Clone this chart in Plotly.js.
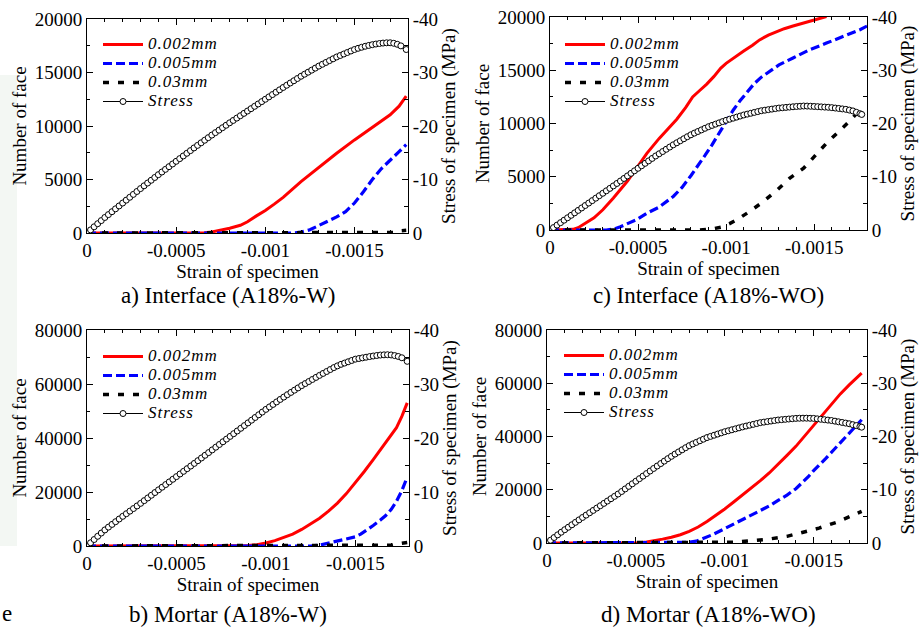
<!DOCTYPE html>
<html><head><meta charset="utf-8">
<script src="https://cdn.plot.ly/plotly-3.0.1.min.js"></script>
<style>html,body{margin:0;padding:0;background:#fff}#chart{width:921px;height:628px}</style>
</head><body><div id="chart"></div>
<script>
// ---------- labels ----------
const seriesNames = ['0.002mm', '0.005mm', '0.03mm', 'Stress'];
const panelCaptions = ['a) Interface (A18%-W)', 'c) Interface (A18%-WO)', 'b) Mortar (A18%-W)', 'd) Mortar (A18%-WO)'];
const xTitle = 'Strain of specimen';
const yTitle = 'Number of face';
const y2Title = 'Stress of specimen (MPa)';
const xTickVals = [0, -0.0005, -0.001, -0.0015];
const xTickText = ['0', '-0.0005', '-0.001', '-0.0015'];
const countTickValsTop = [0, 5000, 10000, 15000, 20000];
const countTickTextTop = ['0', '5000', '10000', '15000', '20000'];
const countTickValsBottom = [0, 20000, 40000, 60000, 80000];
const countTickTextBottom = ['0', '20000', '40000', '60000', '80000'];
const stressTickVals = [0, -10, -20, -30, -40];
const stressTickText = ['0', '-10', '-20', '-30', '-40'];

// ---------- strain positions of the stress readings ----------
const stressStrainAB = [0, -0.00002, -0.00004, -0.00006, -0.00008, -0.0001, -0.00012, -0.00014, -0.00016, -0.00018,
  -0.0002, -0.00022, -0.00024, -0.00026, -0.00028, -0.0003, -0.00032, -0.00034, -0.00036, -0.00038,
  -0.0004, -0.00042, -0.00044, -0.00046, -0.00048, -0.0005, -0.00052, -0.00054, -0.00056, -0.00058,
  -0.0006, -0.00062, -0.00064, -0.00066, -0.00068, -0.0007, -0.00072, -0.00074, -0.00076, -0.00078,
  -0.0008, -0.00082, -0.00084, -0.00086, -0.00088, -0.0009, -0.00092, -0.00094, -0.00096, -0.00098,
  -0.001, -0.00102, -0.00104, -0.00106, -0.00108, -0.0011, -0.00112, -0.00114, -0.00116, -0.00118,
  -0.0012, -0.00122, -0.00124, -0.00126, -0.00128, -0.0013, -0.00132, -0.00134, -0.00136, -0.00138,
  -0.0014, -0.00142, -0.00144, -0.00146, -0.00148, -0.0015, -0.00152, -0.00154, -0.00156, -0.00158,
  -0.0016, -0.00162, -0.00164, -0.00166, -0.00168, -0.0017, -0.00172, -0.00174, -0.00176, -0.00179];
const stressStrainCD = [0, -0.00002, -0.00004, -0.00006, -0.00008, -0.0001, -0.00012, -0.00014, -0.00016, -0.00018,
  -0.0002, -0.00022, -0.00024, -0.00026, -0.00028, -0.0003, -0.00032, -0.00034, -0.00036, -0.00038,
  -0.0004, -0.00042, -0.00044, -0.00046, -0.00048, -0.0005, -0.00052, -0.00054, -0.00056, -0.00058,
  -0.0006, -0.00062, -0.00064, -0.00066, -0.00068, -0.0007, -0.00072, -0.00074, -0.00076, -0.00078,
  -0.0008, -0.00082, -0.00084, -0.00086, -0.00088, -0.0009, -0.00092, -0.00094, -0.00096, -0.00098,
  -0.001, -0.00102, -0.00104, -0.00106, -0.00108, -0.0011, -0.00112, -0.00114, -0.00116, -0.00118,
  -0.0012, -0.00122, -0.00124, -0.00126, -0.00128, -0.0013, -0.00132, -0.00134, -0.00136, -0.00138,
  -0.0014, -0.00142, -0.00144, -0.00146, -0.00148, -0.0015, -0.00152, -0.00154, -0.00156, -0.00158,
  -0.0016, -0.00162, -0.00164, -0.00166, -0.00168, -0.0017, -0.00172, -0.00174, -0.00176, -0.00177];

// ---------- panel a) Interface (A18%-W) ----------
const aStress = [0, -0.58, -1.16, -1.74, -2.32, -2.90, -3.44, -3.98, -4.52, -5.06,
  -5.60, -6.14, -6.68, -7.22, -7.76, -8.30, -8.82, -9.34, -9.86, -10.38,
  -10.90, -11.40, -11.90, -12.40, -12.90, -13.40, -13.90, -14.40, -14.90, -15.40,
  -15.90, -16.38, -16.86, -17.34, -17.82, -18.30, -18.76, -19.22, -19.68, -20.14,
  -20.60, -21.04, -21.48, -21.92, -22.36, -22.80, -23.24, -23.68, -24.12, -24.56,
  -25.00, -25.44, -25.88, -26.32, -26.76, -27.20, -27.62, -28.04, -28.46, -28.88,
  -29.30, -29.68, -30.06, -30.44, -30.82, -31.20, -31.54, -31.88, -32.22, -32.56,
  -32.90, -33.18, -33.46, -33.74, -34.02, -34.30, -34.52, -34.72, -34.90, -35.06,
  -35.20, -35.32, -35.42, -35.50, -35.55, -35.56, -35.46, -35.27, -34.98, -34.30];
const aRedX = [0, -0.0006, -0.00066, -0.0007, -0.00075, -0.0008, -0.00086, -0.0009, -0.00095, -0.001, -0.00105, -0.0011, -0.0012, -0.0013, -0.0014, -0.0015, -0.0016, -0.0017, -0.00175, -0.00179];
const aRedY = [0, 0, 30, 100, 250, 450, 720, 1050, 1600, 2100, 2700, 3330, 4800, 6150, 7450, 8700, 9900, 11050, 11850, 12800];
const aBlueX = [0, -0.00115, -0.0012, -0.00125, -0.0013, -0.00135, -0.0014, -0.00145, -0.0015, -0.00155, -0.0016, -0.00165, -0.0017, -0.00175, -0.00179];
const aBlueY = [0, 0, 80, 300, 700, 1100, 1500, 2000, 2800, 3850, 5000, 6000, 6850, 7600, 8250];
const aBlackX = [0, -0.00165, -0.00172, -0.00175, -0.00179];
const aBlackY = [0, 0, 50, 200, 250];

// ---------- panel c) Interface (A18%-WO) ----------
const cStress = [0, -0.46, -0.92, -1.38, -1.84, -2.30, -2.76, -3.22, -3.68, -4.14,
  -4.60, -5.06, -5.52, -5.98, -6.44, -6.90, -7.36, -7.82, -8.28, -8.74,
  -9.20, -9.68, -10.16, -10.64, -11.12, -11.59, -12.06, -12.52, -12.98, -13.44,
  -13.90, -14.32, -14.74, -15.16, -15.58, -16.00, -16.38, -16.76, -17.14, -17.52,
  -17.88, -18.20, -18.50, -18.80, -19.10, -19.40, -19.64, -19.88, -20.12, -20.36,
  -20.60, -20.80, -21.00, -21.20, -21.40, -21.60, -21.76, -21.92, -22.08, -22.24,
  -22.40, -22.50, -22.60, -22.70, -22.80, -22.90, -22.96, -23.02, -23.08, -23.14,
  -23.20, -23.24, -23.28, -23.27, -23.24, -23.20, -23.16, -23.12, -23.08, -23.04,
  -22.98, -22.90, -22.82, -22.74, -22.66, -22.52, -22.36, -22.10, -21.84, -21.70];
const cRedX = [0, -0.0001, -0.00013, -0.00016, -0.0002, -0.00025, -0.0003, -0.00036, -0.00044, -0.00049, -0.00055, -0.00062, -0.00068, -0.00072, -0.00077, -0.00081, -0.00085, -0.00089, -0.00093, -0.00097, -0.001, -0.00105, -0.0011, -0.00115, -0.00119, -0.00124, -0.00129, -0.00133, -0.00138, -0.00143, -0.00147, -0.00152, -0.00157];
const cRedY = [0, 0, 60, 220, 620, 1150, 1900, 3000, 4600, 5800, 7200, 8600, 9650, 10400, 11500, 12500, 13100, 13700, 14400, 15200, 15650, 16250, 16800, 17350, 17850, 18300, 18650, 18900, 19150, 19400, 19600, 19850, 20050];
const cBlueX = [0, -0.00032, -0.00036, -0.0004, -0.00044, -0.00049, -0.00055, -0.00062, -0.0007, -0.00075, -0.0008, -0.00084, -0.00088, -0.00092, -0.00096, -0.001, -0.00104, -0.00108, -0.00112, -0.00116, -0.0012, -0.00125, -0.0013, -0.00138, -0.00147, -0.00157, -0.00166, -0.00176, -0.0018];
const cBlueY = [0, 0, 80, 300, 600, 950, 1580, 2150, 3150, 4000, 5100, 6000, 7000, 8000, 9100, 10200, 11250, 12150, 13000, 13750, 14350, 14950, 15500, 16150, 16900, 17550, 18150, 18800, 19150];
const cBlackX = [0, -0.00085, -0.00092, -0.00098, -0.00102, -0.00106, -0.00113, -0.00121, -0.00129, -0.00136, -0.00144, -0.0015, -0.00157, -0.00164, -0.0017, -0.00177];
const cBlackY = [0, 0, 100, 300, 600, 950, 1700, 2650, 3750, 4850, 5800, 6900, 8150, 9250, 10200, 11450];

// ---------- panel b) Mortar (A18%-W) ----------
const bStress = [0, -0.60, -1.20, -1.80, -2.40, -2.98, -3.50, -4.00, -4.50, -5.00,
  -5.50, -5.98, -6.46, -6.94, -7.42, -7.90, -8.40, -8.90, -9.40, -9.90,
  -10.40, -10.89, -11.38, -11.87, -12.36, -12.85, -13.34, -13.83, -14.32, -14.81,
  -15.30, -15.80, -16.30, -16.80, -17.30, -17.80, -18.30, -18.80, -19.30, -19.80,
  -20.30, -20.80, -21.30, -21.80, -22.30, -22.80, -23.30, -23.80, -24.30, -24.80,
  -25.30, -25.76, -26.22, -26.68, -27.14, -27.58, -28.02, -28.44, -28.86, -29.28,
  -29.70, -30.08, -30.46, -30.84, -31.22, -31.60, -31.96, -32.32, -32.68, -33.04,
  -33.36, -33.64, -33.88, -34.12, -34.36, -34.60, -34.72, -34.84, -34.96, -35.08,
  -35.18, -35.28, -35.36, -35.40, -35.42, -35.38, -35.26, -35.10, -34.86, -34.20];
const bRedX = [0, -0.00086, -0.0009, -0.00095, -0.001, -0.00105, -0.0011, -0.00115, -0.0012, -0.00125, -0.0013, -0.00135, -0.0014, -0.00145, -0.0015, -0.00155, -0.0016, -0.00165, -0.0017, -0.00173, -0.00176, -0.00179];
const bRedY = [0, 0, 150, 500, 1100, 2000, 3100, 4400, 6150, 8100, 10300, 12900, 15900, 19400, 23300, 27600, 32000, 36500, 40800, 43800, 48000, 53000];
const bBlueX = [0, -0.00125, -0.0013, -0.00134, -0.00138, -0.00143, -0.00147, -0.0015, -0.00153, -0.00156, -0.0016, -0.00164, -0.00167, -0.0017, -0.00173, -0.00176, -0.00179];
const bBlueY = [0, 0, 300, 900, 1400, 2100, 2800, 3400, 4400, 5700, 7600, 9600, 11300, 13500, 16500, 20500, 25500];
const bBlackX = [0, -0.0016, -0.0017, -0.00175, -0.00179];
const bBlackY = [0, 0, 300, 900, 1300];

// ---------- panel d) Mortar (A18%-WO) ----------
const dStress = [0, -0.52, -1.03, -1.53, -2.03, -2.50, -2.96, -3.42, -3.88, -4.34,
  -4.80, -5.24, -5.68, -6.12, -6.56, -7.00, -7.44, -7.88, -8.32, -8.76,
  -9.20, -9.67, -10.16, -10.64, -11.12, -11.60, -12.08, -12.56, -13.04, -13.52,
  -14.00, -14.46, -14.92, -15.38, -15.84, -16.28, -16.70, -17.10, -17.50, -17.90,
  -18.28, -18.60, -18.90, -19.20, -19.50, -19.80, -20.02, -20.24, -20.46, -20.68,
  -20.90, -21.08, -21.26, -21.44, -21.62, -21.80, -21.96, -22.12, -22.28, -22.44,
  -22.60, -22.70, -22.80, -22.90, -23.00, -23.10, -23.16, -23.22, -23.28, -23.34,
  -23.40, -23.43, -23.44, -23.44, -23.42, -23.40, -23.32, -23.24, -23.16, -23.08,
  -23.00, -22.88, -22.76, -22.64, -22.52, -22.40, -22.22, -22.05, -21.85, -21.75];
const dRedX = [0, -0.00048, -0.00052, -0.00056, -0.0006, -0.00065, -0.0007, -0.00075, -0.0008, -0.00085, -0.0009, -0.00095, -0.001, -0.00105, -0.0011, -0.00115, -0.0012, -0.00125, -0.0013, -0.00135, -0.0014, -0.00145, -0.0015, -0.00155, -0.0016, -0.00165, -0.0017, -0.00177];
const dRedY = [0, 0, 120, 380, 800, 1450, 2150, 3100, 4400, 6000, 8100, 10400, 12800, 15400, 18000, 20700, 23400, 26300, 29500, 32900, 36300, 40200, 44300, 48400, 52200, 56000, 59400, 63800];
const dBlueX = [0, -0.00076, -0.0008, -0.00084, -0.00088, -0.00093, -0.00097, -0.001, -0.00105, -0.0011, -0.00115, -0.0012, -0.00125, -0.0013, -0.00135, -0.0014, -0.00144, -0.00147, -0.0015, -0.00153, -0.00157, -0.00162, -0.00167, -0.00172, -0.00177];
const dBlueY = [0, 0, 250, 700, 1700, 3100, 4400, 5400, 7100, 8700, 10300, 12000, 13900, 16000, 18000, 20400, 22800, 24900, 27200, 29400, 31900, 35500, 39200, 42800, 46300];
const dBlackX = [0, -0.00095, -0.00105, -0.00116, -0.00125, -0.00135, -0.00144, -0.00153, -0.00163, -0.00172, -0.00177];
const dBlackY = [0, 0, 300, 900, 1500, 2500, 4000, 5600, 7800, 10300, 11900];

// ---------- build ----------
const FONT = 'Liberation Serif';
const W = 921, H = 628;
const px = v => v / W;
const py = v => 1 - v / H;
// legend entries: 17px italic text on a compact 18px row pitch
const legendLabel = t => '<span style="font-size:17px;letter-spacing:1px">' + t + '</span>';

const panels = [
  {stress: [stressStrainAB, aStress], red: [aRedX, aRedY], blue: [aBlueX, aBlueY], black: [aBlackX, aBlackY],
   box: [87, 408, 19, 233], ymax: 20000, yt: [countTickValsTop, countTickTextTop], ydt: 2500, leg: [98, 30]},
  {stress: [stressStrainCD, cStress], red: [cRedX, cRedY], blue: [cBlueX, cBlueY], black: [cBlackX, cBlackY],
   box: [550, 867, 17, 230], ymax: 20000, yt: [countTickValsTop, countTickTextTop], ydt: 2500, leg: [560, 30]},
  {stress: [stressStrainAB, bStress], red: [bRedX, bRedY], blue: [bBlueX, bBlueY], black: [bBlackX, bBlackY],
   box: [87, 409, 330, 546], ymax: 80000, yt: [countTickValsBottom, countTickTextBottom], ydt: 10000, leg: [98, 342]},
  {stress: [stressStrainCD, dStress], red: [dRedX, dRedY], blue: [dBlueX, dBlueY], black: [dBlackX, dBlackY],
   box: [547, 867, 330, 543], ymax: 80000, yt: [countTickValsBottom, countTickTextBottom], ydt: 10000, leg: [559, 341]}
];

const traces = [];
const layout = {
  width: W, height: H,
  margin: {l: 0, r: 0, t: 0, b: 0},
  paper_bgcolor: '#ffffff', plot_bgcolor: 'rgba(0,0,0,0)',
  font: {family: FONT, color: '#000', size: 19},
  showlegend: true,
  annotations: [], shapes: []
};

const tickFont = {family: FONT, size: 19, color: '#000'};
const titleFont = {family: FONT, size: 19, color: '#000'};

panels.forEach((p, i) => {
  const k = i + 1;
  const xn = k === 1 ? '' : String(k);
  const y1n = (2 * k - 1) === 1 ? '' : String(2 * k - 1);
  const y2n = String(2 * k);
  const legName = k === 1 ? 'legend' : 'legend' + k;
  const common = {xaxis: 'x' + xn, legend: legName, mode: 'lines', hoverinfo: 'skip'};
  traces.push(Object.assign({}, common, {x: p.red[0], y: p.red[1], yaxis: 'y' + y1n, name: legendLabel(seriesNames[0]),
    line: {color: '#ff0000', width: 3}}));
  traces.push(Object.assign({}, common, {x: p.blue[0], y: p.blue[1], yaxis: 'y' + y1n, name: legendLabel(seriesNames[1]),
    line: {color: '#0000ff', width: 3.2, dash: '9px,4px'}}));
  traces.push(Object.assign({}, common, {x: p.black[0], y: p.black[1], yaxis: 'y' + y1n, name: legendLabel(seriesNames[2]),
    line: {color: '#000000', width: 3.5, dash: '6px,9px'}}));
  traces.push(Object.assign({}, common, {x: p.stress[0], y: p.stress[1], yaxis: 'y' + y2n, name: legendLabel(seriesNames[3]),
    mode: 'lines+markers', line: {color: '#000000', width: 1},
    marker: {symbol: 'circle', size: 6, color: '#ffffff', line: {color: '#000000', width: 1}}}));

  const [L, R, T, B] = p.box;
  layout['xaxis' + xn] = {
    domain: [px(L), px(R)], anchor: 'y' + y1n, range: [0, -0.0018], autorange: false,
    tickmode: 'array', tickvals: xTickVals, ticktext: xTickText,
    ticks: 'inside', ticklen: 6, tickwidth: 1, tickcolor: '#000',
    minor: {tickmode: 'linear', tick0: 0, dtick: 0.0001, ticks: 'inside', ticklen: 3, tickwidth: 1, tickcolor: '#000', showgrid: false},
    showline: true, linecolor: '#000', linewidth: 1, mirror: 'ticks',
    showgrid: false, zeroline: false, tickfont: tickFont,
    title: {text: xTitle, font: titleFont, standoff: 0}, automargin: false
  };
  layout['yaxis' + y1n] = {
    domain: [py(B), py(T)], anchor: 'x' + xn, range: [0, p.ymax], autorange: false,
    tickmode: 'array', tickvals: p.yt[0], ticktext: p.yt[1],
    ticks: 'inside', ticklen: 6, tickwidth: 1, tickcolor: '#000',
    minor: {tickmode: 'linear', tick0: 0, dtick: p.ydt, ticks: 'inside', ticklen: 3, tickwidth: 1, tickcolor: '#000', showgrid: false},
    showline: true, linecolor: '#000', linewidth: 1,
    showgrid: false, zeroline: false, tickfont: tickFont,
    title: {text: yTitle, font: titleFont, standoff: 3}, automargin: false
  };
  layout['yaxis' + y2n] = {
    overlaying: 'y' + y1n, anchor: 'x' + xn, side: 'right', range: [0, -40], autorange: false,
    tickmode: 'array', tickvals: stressTickVals, ticktext: stressTickText,
    ticks: 'inside', ticklen: 6, tickwidth: 1, tickcolor: '#000',
    minor: {tickmode: 'linear', tick0: 0, dtick: 5, ticks: 'inside', ticklen: 4, tickwidth: 1, tickcolor: '#000', showgrid: false},
    showline: true, linecolor: '#000', linewidth: 1,
    showgrid: false, zeroline: false, tickfont: tickFont,
    title: {text: y2Title, font: titleFont, standoff: 0}, automargin: false
  };
  layout[legName] = {
    x: px(p.leg[0]), y: py(p.leg[1]), xanchor: 'left', yanchor: 'top',
    bgcolor: 'rgba(0,0,0,0)', borderwidth: 0, itemwidth: 40,
    font: {family: FONT, size: 12, color: '#000', style: 'italic'},
    tracegroupgap: 0
  };
});

const captionPos = [[228, 295], [708, 295], [228, 614], [708, 614]];
panelCaptions.forEach((t, i) => {
  layout.annotations.push({text: t, xref: 'paper', yref: 'paper', x: px(captionPos[i][0]), y: py(captionPos[i][1]),
    xanchor: 'center', yanchor: 'middle', showarrow: false, font: {family: FONT, size: 23, color: '#000'}});
});
// glyph at the lower-left edge of the source image
layout.annotations.push({text: 'e', xref: 'paper', yref: 'paper', x: 0, y: py(613), xanchor: 'left', yanchor: 'middle',
  showarrow: false, font: {family: FONT, size: 23, color: '#000'}});
// faint band at the left edge of the source image
layout.shapes.push({type: 'rect', xref: 'paper', yref: 'paper', x0: 0, x1: px(17), y0: py(546), y1: py(75),
  fillcolor: '#f3f7f3', line: {width: 0}, layer: 'below'});

Plotly.newPlot('chart', traces, layout, {staticPlot: true, displayModeBar: false});
</script>
</body></html>
